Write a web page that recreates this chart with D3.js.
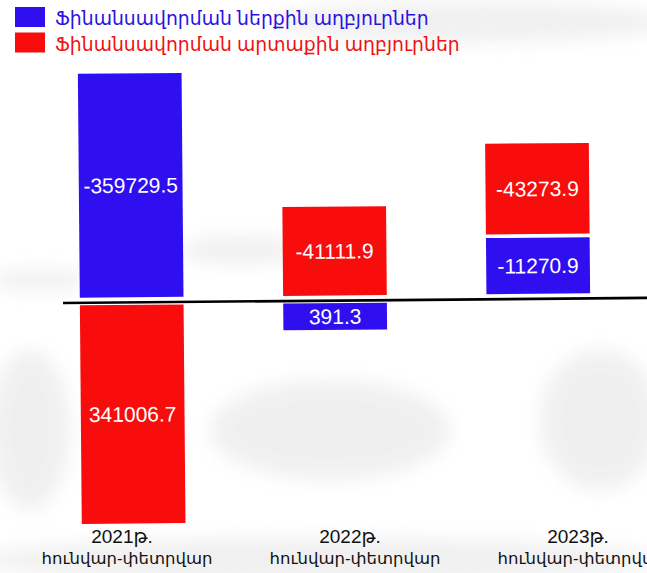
<!DOCTYPE html>
<html>
<head>
<meta charset="utf-8">
<script src="https://cdn.jsdelivr.net/npm/d3@7"></script>
<style>
    body { margin: 0; background: #ffffff; }
    svg { display: block; font-family: "Liberation Sans", Arial, "DejaVu Sans", sans-serif; }
    .valueLabel { fill: #ffffff; font-size: 21px; text-anchor: middle; dominant-baseline: central; }
    .catLabel { fill: #111111; font-size: 19px; text-anchor: middle; }
    .legendText { font-size: 18.8px; }
</style>
</head>
<body>
<div id="chart"></div>
<script>
// periods (January-February of each year)
const years = ["2021թ.", "2022թ.", "2023թ."];
const period = "հունվար-փետրվար";

// financing sources, thousand AMD
const internalSources = [-359729.5, 391.3, -11270.9];
const externalSources = [341006.7, -41111.9, -43273.9];

const seriesNames = ["Ֆինանսավորման ներքին աղբյուրներ", "Ֆինանսավորման արտաքին աղբյուրներ"];
const seriesColors = ["#2f0ff0", "#f80c0c"];
const legendColors = ["#2a12e2", "#f01212"];

function init() {
    const w = 647;
    const h = 573;
    const baseY = 299;
    const gap = 3.6;

    const svg = d3.select("#chart").append("svg").attr("width", w).attr("height", h);

    // soft grey texture of the original backdrop
    const defs = svg.append("defs");
    defs.append("filter").attr("id", "blur")
        .attr("x", "-20%").attr("y", "-50%").attr("width", "140%").attr("height", "200%")
        .append("feGaussianBlur").attr("stdDeviation", 9);

    const texture = svg.append("g")
        .attr("filter", "url(#blur)")
        .attr("fill", "#e6e6e6")
        .attr("opacity", 0.6);
    texture.append("ellipse").attr("cx", 470).attr("cy", 22).attr("rx", 200).attr("ry", 20);
    texture.append("ellipse").attr("cx", 40).attr("cy", 280).attr("rx", 50).attr("ry", 10);
    texture.append("ellipse").attr("cx", 240).attr("cy", 250).attr("rx", 60).attr("ry", 14);
    texture.append("ellipse").attr("cx", 320).attr("cy", 560).attr("rx", 340).attr("ry", 22);
    texture.append("ellipse").attr("cx", 30).attr("cy", 430).attr("rx", 40).attr("ry", 80);
    texture.append("ellipse").attr("cx", 330).attr("cy", 430).attr("rx", 120).attr("ry", 50);
    texture.append("ellipse").attr("cx", 600).attr("cy", 420).attr("rx", 60).attr("ry", 70);

    // x scale for the bars and a separate one for period labels
    const xScale = d3.scaleBand()
        .domain(years)
        .range([29, 641])
        .paddingInner(0.49)
        .paddingOuter(0.25);

    const labelScale = d3.scalePoint()
        .domain(years)
        .range([127, 583]);

    // heights: negative values are drawn upwards from the line (schematic, sqrt-like)
    const hScale = d3.scaleSqrt()
        .domain([0, 360000])
        .range([20, 224]);

    // build stacks per period
    const bars = [];
    years.forEach((y, i) => {
        const vals = [internalSources[i], externalSources[i]];
        let up = baseY - gap;
        let down = baseY + 4;
        vals.forEach((v, s) => {
            const bh = hScale(Math.abs(v));
            let top;
            if (v < 0) {
                top = up - bh;
                up = top - gap;
            } else {
                top = down;
                down = top + bh + gap;
            }
            bars.push({ year: y, series: s, value: v, y: top, h: bh });
        });
    });

    const plot = svg.append("g")
        .attr("transform", "rotate(-0.5, 350, " + baseY + ")");

    plot.selectAll("rect.bar")
        .data(bars)
        .enter()
        .append("rect")
        .attr("class", "bar")
        .attr("x", (d) => { return xScale(d.year) })
        .attr("width", xScale.bandwidth())
        .attr("y", (d) => { return d.y })
        .attr("height", (d) => { return d.h })
        .attr("fill", (d) => { return seriesColors[d.series] });

    plot.selectAll("text.valueLabel")
        .data(bars)
        .enter()
        .append("text")
        .attr("class", "valueLabel")
        .attr("x", (d) => { return xScale(d.year) + xScale.bandwidth() / 2 })
        .attr("y", (d) => { return d.y + d.h / 2 })
        .text((d) => { return d.value.toFixed(1) });

    // zero line
    plot.append("line")
        .attr("x1", 63)
        .attr("x2", w + 10)
        .attr("y1", baseY + 1.5)
        .attr("y2", baseY + 1.5)
        .attr("stroke", "#000")
        .attr("stroke-width", 2.6);

    // period labels
    const cats = svg.selectAll("text.catLabel")
        .data(years)
        .enter()
        .append("text")
        .attr("class", "catLabel")
        .attr("x", (d) => { return labelScale(d) })
        .attr("y", 543);
    cats.append("tspan")
        .attr("x", (d) => { return labelScale(d) - 5 })
        .text((d) => { return d });
    cats.append("tspan")
        .attr("x", (d) => { return labelScale(d) })
        .attr("dy", 21)
        .attr("font-size", "16.5px")
        .text(period);

    // legend
    const legend = svg.selectAll("g.legend")
        .data(seriesNames)
        .enter()
        .append("g")
        .attr("class", "legend")
        .attr("transform", (d, i) => { return "translate(15," + (7 + i * 25.5) + ")" });

    legend.append("rect")
        .attr("width", 30)
        .attr("height", 20)
        .attr("fill", (d, i) => { return seriesColors[i] });

    legend.append("text")
        .attr("class", "legendText")
        .attr("x", 40)
        .attr("y", 18)
        .attr("fill", (d, i) => { return legendColors[i] })
        .text((d) => { return d });
}

window.onload = init();
</script>
</body>
</html>
